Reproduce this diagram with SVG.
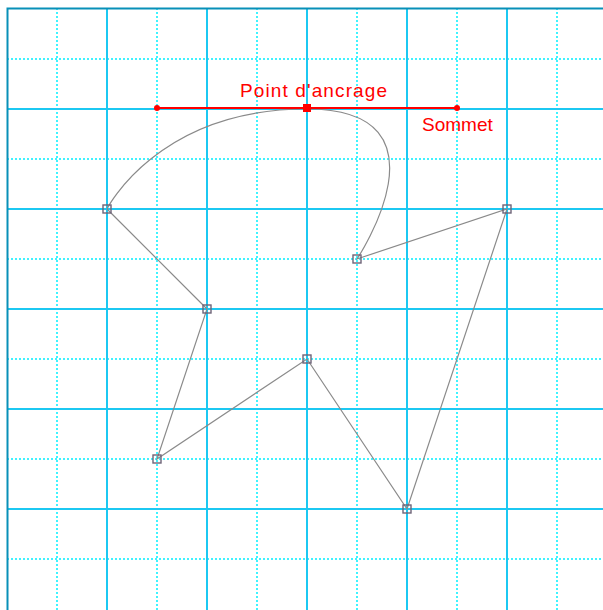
<svg xmlns="http://www.w3.org/2000/svg" width="603" height="610" viewBox="0 0 603 610">
<style>
.minor{stroke:#00f0ff;stroke-width:1.5;stroke-dasharray:2 2;fill:none}
.major{stroke:#1cc8f2;stroke-width:2;fill:none}
.edge{stroke:#8a8a8a;stroke-width:1.2;fill:none}
.node{fill:none;stroke:#6e6478;stroke-width:1.4}
.red{fill:#ff0000;font-family:"Liberation Sans",Arial,sans-serif;font-size:19px}
</style>
<rect width="603" height="610" fill="#ffffff"/>
<g id="grid">
<path class="minor" d="M57,8V610M157,8V610M257,8V610M357,8V610M457,8V610M557,8V610M7,59H603M7,159H603M7,259H603M7,359H603M7,459H603M7,559H603"/>
<path class="major" d="M107,8V610M207,8V610M307,8V610M407,8V610M507,8V610M7,109H603M7,209H603M7,309H603M7,409H603M7,509H603"/>
<path d="M7.5,610V8.5H603" stroke="#0890b8" stroke-width="2" fill="none"/>
</g>
<g id="connectors">
<path class="edge" d="M107,209L207,309L157,459L307,359L407,509L507,209L357,259C357,259 457,109 307,109C157,109 107,209 107,209"/>
</g>
<g id="handle">
<line x1="157" y1="108" x2="457" y2="108" stroke="#ff0000" stroke-width="2"/>
<circle cx="157" cy="108" r="3" fill="#ff0000"/>
<circle cx="457" cy="108" r="3" fill="#ff0000"/>
<rect x="303" y="104" width="8" height="8" fill="#ff0000"/>
</g>
<g id="n1"><rect class="node" x="103" y="205" width="8" height="8"/></g>
<g id="n2"><rect class="node" x="203" y="305" width="8" height="8"/></g>
<g id="n3"><rect class="node" x="153" y="455" width="8" height="8"/></g>
<g id="n4"><rect class="node" x="303" y="355" width="8" height="8"/></g>
<g id="n5"><rect class="node" x="403" y="505" width="8" height="8"/></g>
<g id="n6"><rect class="node" x="503" y="205" width="8" height="8"/></g>
<g id="n7"><rect class="node" x="353" y="255" width="8" height="8"/></g>
<g id="labels">
<text class="red" x="240" y="97" textLength="147" lengthAdjust="spacing">Point d'ancrage</text>
<text class="red" x="422" y="131">Sommet</text>
</g>
</svg>
